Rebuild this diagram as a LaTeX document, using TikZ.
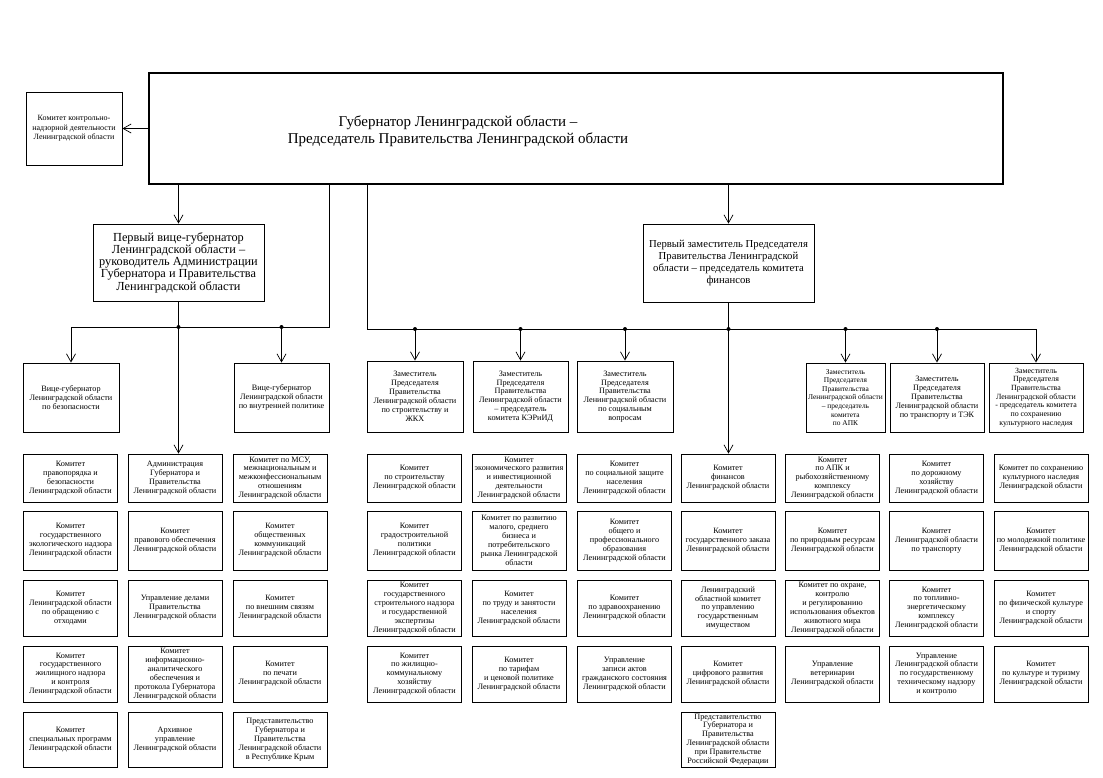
\documentclass[tikz,border=0pt]{standalone}
\usepackage{fontspec}
\setmainfont{Liberation Serif}
\usetikzlibrary{arrows.meta}

\begin{document}
\begin{tikzpicture}[x=1pt, y=-1pt, line width=0.7pt,
	box/.style={draw, line width=0.9pt, align=center, inner sep=1pt, font=\fontsize{8.2}{8.9}\selectfont},
	kom/.style={box, minimum width=94pt},
	r1/.style={minimum height=48pt}, r2/.style={minimum height=59pt}, r3/.style={minimum height=56pt},
	r4/.style={minimum height=56pt}, r5/.style={minimum height=55pt},
	arr/.style={-{Straight Barb[length=8pt,width=9pt]}}]
	\useasboundingbox (0,0) rectangle (1103,777);

	% top level
	\node[draw, line width=1.2pt, minimum width=854pt, minimum height=111pt] (gov) at (576,128.5) {};
	\node[align=center, font=\fontsize{15}{17}\selectfont] (govtxt) at (458,131) {Губернатор Ленинградской области –\\Председатель Правительства Ленинградской области};
	\node[box, font=\fontsize{8}{9.3}\selectfont, minimum width=96pt, minimum height=73pt] (ctrl) at (74,128.5) {Комитет контрольно-\\надзорной деятельности\\Ленинградской области};
	\node[box, font=\fontsize{12.3}{12.3}\selectfont, minimum width=171pt, minimum height=77pt] (fv) at (178.5,262.5) {Первый вице-губернатор\\Ленинградской области –\\руководитель Администрации\\Губернатора и Правительства\\Ленинградской области};
	\node[box, font=\fontsize{10.7}{12.3}\selectfont, minimum width=171pt, minimum height=78pt] (fd) at (728.5,263) {Первый заместитель Председателя\\Правительства Ленинградской\\области – председатель комитета\\финансов};

	% deputies
	\node[box, minimum width=96pt, minimum height=69pt] (vb) at (71,397.5) {Вице-губернатор\\Ленинградской области\\по безопасности};
	\node[box, minimum width=95pt, minimum height=69pt] (vv) at (281.5,397.5) {Вице-губернатор\\Ленинградской области\\по внутренней политике};
	\node[box, minimum width=96pt, minimum height=71pt] (zs) at (415,396.5) {Заместитель\\Председателя\\Правительства\\Ленинградской области\\по строительству и\\ЖКХ};
	\node[box, minimum width=95pt, minimum height=71pt] (ze) at (520.5,396.5) {Заместитель\\Председателя\\Правительства\\Ленинградской области\\– председатель\\комитета КЭРиИД};
	\node[box, minimum width=96pt, minimum height=71pt] (zsoc) at (625,396.5) {Заместитель\\Председателя\\Правительства\\Ленинградской области\\по социальным\\вопросам};
	\node[box, font=\fontsize{7.4}{8.6}\selectfont, minimum width=79pt, minimum height=69pt] (zapk) at (845.5,397.5) {Заместитель\\Председателя\\Правительства\\Ленинградской области\\– председатель\\комитета\\по АПК};
	\node[box, minimum width=94pt, minimum height=69pt] (ztr) at (937,397.5) {Заместитель\\Председателя\\Правительства\\Ленинградской области\\по транспорту и ТЭК};
	\node[box, font=\fontsize{7.9}{8.7}\selectfont, minimum width=94pt, minimum height=69pt] (zcult) at (1036,397.5) {Заместитель\\Председателя\\Правительства\\Ленинградской области\\- председатель комитета\\по сохранению\\культурного наследия};

	% committees
	\node[kom, r1] (bez1) at (70.5,478) {Комитет\\правопорядка и\\безопасности\\Ленинградской области};
	\node[kom, r2] (bez2) at (70.5,540.5) {Комитет\\государственного\\экологического надзора\\Ленинградской области};
	\node[kom, r3] (bez3) at (70.5,608) {Комитет\\Ленинградской области\\по обращению с\\отходами};
	\node[kom, r4] (bez4) at (70.5,674) {Комитет\\государственного\\жилищного надзора\\и контроля\\Ленинградской области};
	\node[kom, r5] (bez5) at (70.5,739.5) {Комитет\\специальных программ\\Ленинградской области};

	\node[kom, r1] (adm1) at (175,478) {Администрация\\Губернатора и\\Правительства\\Ленинградской области};
	\node[kom, r2] (adm2) at (175,540.5) {Комитет\\правового обеспечения\\Ленинградской области};
	\node[kom, r3] (adm3) at (175,608) {Управление делами\\Правительства\\Ленинградской области};
	\node[kom, r4] (adm4) at (175,674) {Комитет\\информационно-\\аналитического\\обеспечения и\\протокола Губернатора\\Ленинградской области};
	\node[kom, r5] (adm5) at (175,739.5) {Архивное\\управление\\Ленинградской области};

	\node[kom, r1] (vnp1) at (280,478) {Комитет по МСУ,\\межнациональным и\\межконфессиональным\\отношениям\\Ленинградской области};
	\node[kom, r2] (vnp2) at (280,540.5) {Комитет\\общественных\\коммуникаций\\Ленинградской области};
	\node[kom, r3] (vnp3) at (280,608) {Комитет\\по внешним связям\\Ленинградской области};
	\node[kom, r4] (vnp4) at (280,674) {Комитет\\по печати\\Ленинградской области};
	\node[kom, r5] (vnp5) at (280,739.5) {Представительство\\Губернатора и\\Правительства\\Ленинградской области\\в Республике Крым};

	\node[kom, r1] (str1) at (414.5,478) {Комитет\\по строительству\\Ленинградской области};
	\node[kom, r2] (str2) at (414.5,540.5) {Комитет\\градостроительной\\политики\\Ленинградской области};
	\node[kom, r3] (str3) at (414.5,608) {Комитет\\государственного\\строительного надзора\\и государственной\\экспертизы\\Ленинградской области};
	\node[kom, r4] (str4) at (414.5,674) {Комитет\\по жилищно-\\коммунальному\\хозяйству\\Ленинградской области};

	\node[kom, r1] (eco1) at (519,478) {Комитет\\экономического развития\\и инвестиционной\\деятельности\\Ленинградской области};
	\node[kom, r2] (eco2) at (519,540.5) {Комитет по развитию\\малого, среднего\\бизнеса и\\потребительского\\рынка Ленинградской\\области};
	\node[kom, r3] (eco3) at (519,608) {Комитет\\по труду и занятости\\населения\\Ленинградской области};
	\node[kom, r4] (eco4) at (519,674) {Комитет\\по тарифам\\и ценовой политике\\Ленинградской области};

	\node[kom, r1] (soc1) at (624.5,478) {Комитет\\по социальной защите\\населения\\Ленинградской области};
	\node[kom, r2] (soc2) at (624.5,540.5) {Комитет\\общего и\\профессионального\\образования\\Ленинградской области};
	\node[kom, r3] (soc3) at (624.5,608) {Комитет\\по здравоохранению\\Ленинградской области};
	\node[kom, r4] (soc4) at (624.5,674) {Управление\\записи актов\\гражданского состояния\\Ленинградской области};

	\node[kom, r1] (fin1) at (728,478) {Комитет\\финансов\\Ленинградской области};
	\node[kom, r2] (fin2) at (728,540.5) {Комитет\\государственного заказа\\Ленинградской области};
	\node[kom, r3] (fin3) at (728,608) {Ленинградский\\областной комитет\\по управлению\\государственным\\имуществом};
	\node[kom, r4] (fin4) at (728,674) {Комитет\\цифрового развития\\Ленинградской области};
	\node[kom, r5] (fin5) at (728,739.5) {Представительство\\Губернатора и\\Правительства\\Ленинградской области\\при Правительстве\\Российской Федерации};

	\node[kom, r1] (apk1) at (832.5,478) {Комитет\\по АПК и\\рыбохозяйственному\\комплексу\\Ленинградской области};
	\node[kom, r2] (apk2) at (832.5,540.5) {Комитет\\по природным ресурсам\\Ленинградской области};
	\node[kom, r3] (apk3) at (832.5,608) {Комитет по охране,\\контролю\\и регулированию\\использования объектов\\животного мира\\Ленинградской области};
	\node[kom, r4] (apk4) at (832.5,674) {Управление\\ветеринарии\\Ленинградской области};

	\node[kom, r1] (trn1) at (936.5,478) {Комитет\\по дорожному\\хозяйству\\Ленинградской области};
	\node[kom, r2] (trn2) at (936.5,540.5) {Комитет\\Ленинградской области\\по транспорту};
	\node[kom, r3] (trn3) at (936.5,608) {Комитет\\по топливно-\\энергетическому\\комплексу\\Ленинградской области};
	\node[kom, r4] (trn4) at (936.5,674) {Управление\\Ленинградской области\\по государственному\\техническому надзору\\и контролю};

	\node[kom, r1] (cul1) at (1041,478) {Комитет по сохранению\\культурного наследия\\Ленинградской области};
	\node[kom, r2] (cul2) at (1041,540.5) {Комитет\\по молодежной политике\\Ленинградской области};
	\node[kom, r3] (cul3) at (1041,608) {Комитет\\по физической культуре\\и спорту\\Ленинградской области};
	\node[kom, r4] (cul4) at (1041,674) {Комитет\\по культуре и туризму\\Ленинградской области};

	% connectors
	\coordinate (lb) at (329,327);
	\coordinate (rb) at (367,329);
	\draw[arr] (gov.west) -- (ctrl.east);
	\draw[arr] (gov.south -| fv.north) -- (fv.north);
	\draw[arr] (gov.south -| fd.north) -- (fd.north);
	\draw (gov.south -| lb) -- (lb) -- (vb.north |- lb);
	\draw[arr] (vb.north |- lb) -- (vb.north);
	\draw[arr] (vv.north |- lb) -- (vv.north);
	\draw[arr] (fv.south) -- (fv.south |- adm1.north);
	\draw (gov.south -| rb) -- (rb) -- (zcult.north |- rb);
	\foreach \n in {zs,ze,zsoc,zapk,ztr,zcult}
		\draw[arr] (\n.north |- rb) -- (\n.north);
	\draw[arr] (fd.south) -- (fd.south |- fin1.north);
	\foreach \n in {fv,vv}
		\fill (\n.north |- lb) circle (2pt);
	\foreach \n in {zs,ze,zsoc,fd,zapk,ztr}
		\fill (\n.north |- rb) circle (2pt);
\end{tikzpicture}
\end{document}
